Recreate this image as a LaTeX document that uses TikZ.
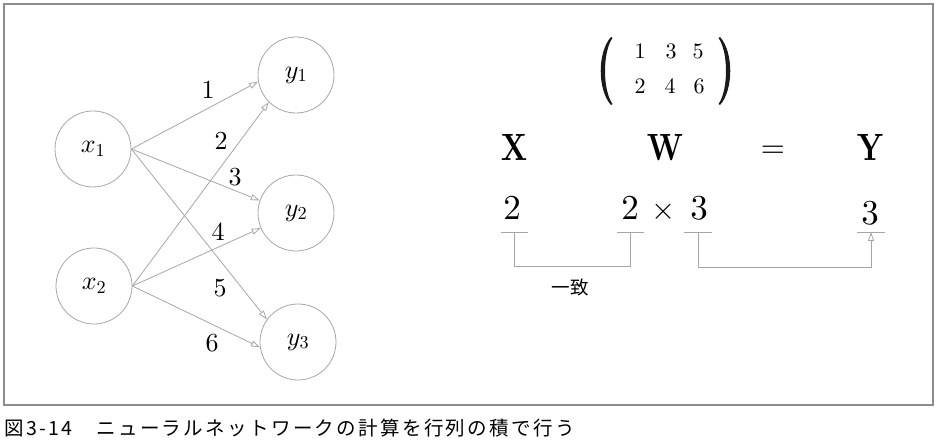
\documentclass[tikz,border=0pt]{standalone}
\usepackage{amsmath}
\usepackage{graphicx}
\usepackage{fontspec}
\DeclareFontShape{OML}{cmm}{m}{it}{<-> cmmi10}{}
\DeclareFontShape{OML}{cmm}{b}{it}{<-> cmmib10}{}
\DeclareFontShape{OMS}{cmsy}{m}{n}{<-> cmsy10}{}
\DeclareFontShape{OMS}{cmsy}{b}{n}{<-> cmbsy10}{}
\DeclareFontShape{OMX}{cmex}{m}{n}{<-> cmex10}{}
\DeclareFontShape{OT1}{cmr}{m}{n}{<-> cmr10}{}
\DeclareFontShape{OT1}{cmr}{bx}{n}{<-> cmbx10}{}
\newcommand\cmrfont{\usefont{OT1}{cmr}{m}{n}}
\newcommand\cmbxfont{\usefont{OT1}{cmr}{bx}{n}}
\newfontfamily\cjk[LetterSpace=12]{Noto Sans CJK JP}
\newfontfamily\cjkplain{Noto Sans CJK JP}
\usetikzlibrary{arrows.meta}
\definecolor{linegray}{HTML}{A6A6A6}
\definecolor{framegray}{HTML}{8C8C8C}
\definecolor{ink}{HTML}{1A1A1A}
\tikzset{
  neuron/.style={circle, draw=linegray, line width=0.8pt, minimum size=76pt, inner sep=0pt,
    font=\fontsize{26}{30}\selectfont},
  edge/.style={draw=linegray, line width=0.8pt, -{Triangle[open, length=9pt, width=6pt]}},
  wlabel/.style={inner sep=0pt, font=\cmrfont\fontsize{26}{30}\selectfont},
  entry/.style={inner sep=0pt, font=\cmrfont\fontsize{22}{26}\selectfont},
  parenshape/.style={fill=ink, draw=none},
  bigsym/.style={inner sep=0pt, anchor=base, font=\cmbxfont\fontsize{38}{42}\selectfont},
  dimnum/.style={inner sep=0pt, anchor=base, font=\cmrfont\fontsize{35}{40}\selectfont},
  guide/.style={draw=linegray, line width=0.8pt},
  guidearrow/.style={guide, -{Triangle[open, length=9pt, width=6pt]}},
}
\begin{document}
\begin{tikzpicture}[x=1pt, y=-1pt]
\useasboundingbox (0,0) rectangle (938,446);
\draw[framegray, line width=1.3pt] (4,4) rectangle (933,405);

% neurons
\node[neuron] (x1) at (93,149) {$x_1$};
\node[neuron] (x2) at (94,286) {$x_2$};
\node[neuron] (y1) at (296,75) {$y_1$};
\node[neuron] (y2) at (296,213) {$y_2$};
\node[neuron] (y3) at (298,342) {$y_3$};

\draw[edge] (x1.east) -- (y1.190);
\draw[edge] (x2.east) -- (y1.225);
\draw[edge] (x1.east) -- (y2.161);
\draw[edge] (x2.east) -- (y2.203);
\draw[edge] (x1.east) -- (y3.144);
\draw[edge] (x2.east) -- (y3.188);

\node[wlabel] (w1) at (208,90) {1};
\node[wlabel] (w2) at (221,141) {2};
\node[wlabel] (w3) at (235,177) {3};
\node[wlabel] (w4) at (218,232) {4};
\node[wlabel] (w5) at (220,288) {5};
\node[wlabel] (w6) at (212,343) {6};

% matrix: parentheses drawn as filled crescents
\fill[parenshape] (611,37) .. controls (597.3,52) and (597.3,90) .. (611,105)
  -- (612.5,104) .. controls (602.5,90) and (602.5,52) .. (612.5,38) -- cycle;
\fill[parenshape] (720,37) .. controls (733.7,52) and (733.7,90) .. (720,105)
  -- (718.5,104) .. controls (728.5,90) and (728.5,52) .. (718.5,38) -- cycle;
\node[entry] (m11) at (640,51.5) {1};
\node[entry] (m12) at (671,51.5) {3};
\node[entry] (m13) at (698,51.5) {5};
\node[entry] (m21) at (640,86.5) {2};
\node[entry] (m22) at (670,86.5) {4};
\node[entry] (m23) at (699,86.5) {6};

% X W = Y
\node[bigsym] (X) at (514,161) {\scalebox{0.8}[1]{X}};
\node[bigsym] (W) at (665,161) {\scalebox{0.8}[1]{W}};
\node[inner sep=0pt, anchor=base, font=\fontsize{31}{36}\selectfont] (eq) at (773,158) {$=$};
\node[bigsym] (Y) at (870,161) {\scalebox{0.8}[1]{Y}};

% dimensions
\node[dimnum] (dx) at (512,220) {2};
\node[dimnum] (dw1) at (630,220) {2};
\node[dimnum, font=\fontsize{31}{36}\selectfont] (times) at (664,220) {$\times$};
\node[dimnum] (dw2) at (699,220) {3};
\node[dimnum] (dy) at (870,225) {3};

% underlines
\coordinate (u1l) at (501,232); \coordinate (u1r) at (528,232);
\coordinate (u2l) at (617,232); \coordinate (u2r) at (644,232);
\coordinate (u3l) at (684,232); \coordinate (u3r) at (712,232);
\coordinate (u4l) at (857,232); \coordinate (u4r) at (885,232);
\draw[guide] (u1l) -- (u1r);
\draw[guide] (u2l) -- (u2r);
\draw[guide] (u3l) -- (u3r);
\draw[guide] (u4l) -- (u4r);

\coordinate (b1s) at (514,232); \coordinate (b1e) at (630,232);
\coordinate (b2s) at (698,232); \coordinate (b2e) at (871,232);
\draw[guide] (b1s) -- ++(0,34) -| (b1e);
\draw[guidearrow] (b2s) -- ++(0,35) -| (b2e);

\node[inner sep=0pt, font=\cjkplain\fontsize{18.5}{22}\selectfont] (match) at (570,287) {一致};

% caption
\node[inner sep=0pt, anchor=west, font=\cjk\fontsize{19.5}{23}\selectfont] (cap) at (4,428)
  {図3-14　ニューラルネットワークの計算を行列の積で行う};
\end{tikzpicture}
\end{document}
